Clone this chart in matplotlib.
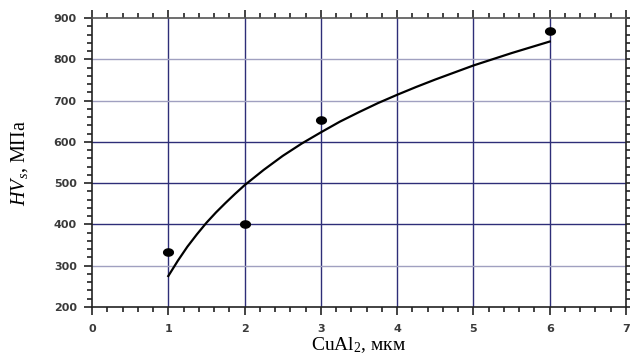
import numpy as np
import matplotlib
matplotlib.use("Agg")
import matplotlib.pyplot as plt
from matplotlib.ticker import MultipleLocator

plt.rcParams['mathtext.fontset'] = 'custom'
plt.rcParams['mathtext.rm'] = 'Liberation Serif'
plt.rcParams['mathtext.it'] = 'Liberation Serif:italic'

# measured points
pts_x = [1, 2, 3, 6]
pts_y = [333, 400, 652, 868]

# trend curve
curve_x = [1, 1.125, 1.25, 1.375, 1.5, 1.625, 1.75, 1.875, 2, 2.25, 2.5, 2.75,
           3, 3.25, 3.5, 3.75, 4, 4.25, 4.5, 4.75, 5, 5.25, 5.5, 5.75, 6]
curve_y = [275, 312, 346, 376, 404, 429, 452, 474, 495, 532, 566, 596,
           623, 649, 672, 694, 714, 733, 751, 768, 785, 800, 815, 829, 843]

x_ticks = [0, 1, 2, 3, 4, 5, 6, 7]
y_ticks = [200, 300, 400, 500, 600, 700, 800, 900]
dark_rows = [400, 500, 600]
light_rows = [300, 700, 800]

fig = plt.figure(figsize=(6.3, 3.6), dpi=100)
ax = fig.add_axes([92/630, 1-307/360, (626-92)/630, (307-18)/360])

ax.set_xlim(0, 7)
ax.set_ylim(200, 900)

dark = '#2e2e78'
light = '#a0a0c0'
for xv in x_ticks[1:-1]:
    ax.axvline(xv, color=dark, lw=1.0, zorder=1)
for yv in dark_rows:
    ax.axhline(yv, color=dark, lw=1.0, zorder=1)
for yv in light_rows:
    ax.axhline(yv, color=light, lw=1.0, zorder=1)

ax.plot(curve_x, curve_y, color='black', lw=1.6, zorder=3)

t = np.linspace(0, 2*np.pi, 40)
ell = list(zip(1.35*np.cos(t), np.sin(t)))
ax.plot(pts_x, pts_y, linestyle='none', marker=ell, markersize=7,
        color='black', zorder=4)

ax.set_xticks(x_ticks)
ax.set_yticks(y_ticks)
ax.xaxis.set_minor_locator(MultipleLocator(0.2))
ax.yaxis.set_minor_locator(MultipleLocator(20))
ax.tick_params(which='both', direction='out', top=True, right=True,
               labeltop=False, labelright=False, width=1.2, color='#222222')
ax.tick_params(which='major', length=6)
ax.tick_params(which='minor', length=3.5)
for lab in ax.get_xticklabels() + ax.get_yticklabels():
    lab.set_fontsize(8)
    lab.set_fontweight('bold')
    lab.set_color('#3a3a3a')
ax.tick_params(axis='y', pad=5)
ax.tick_params(axis='x', pad=6)

for s in ax.spines.values():
    s.set_linewidth(1.2)
    s.set_color('#222222')
ax.spines['top'].set_color('#555555')

ax.set_xlabel('CuAl$_2$, мкм', fontsize=14, family='Liberation Serif', labelpad=1)
ax.set_ylabel('$\\mathit{HV}_{\\mathit{s}}$, МПа', fontsize=14.5,
              family='Liberation Serif', labelpad=17)

fig.savefig('out.png', dpi=100)
